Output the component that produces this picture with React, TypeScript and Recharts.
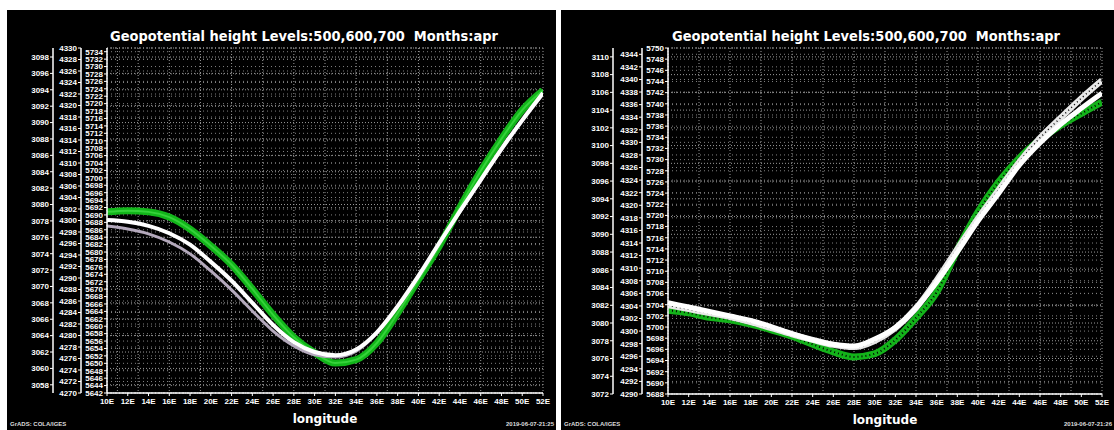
import React from 'react';
import { LineChart, Line, XAxis, YAxis, CartesianGrid } from 'recharts';

const longitudes = [10, 12, 14, 16, 18, 20, 22, 24, 26, 28, 30, 32, 34, 36, 38, 40, 42, 44, 46, 48, 50, 52];
const minorLon = [10, 11, 12, 13, 14, 15, 16, 17, 18, 19, 20, 21, 22, 23, 24, 25, 26, 27, 28, 29, 30, 31, 32, 33, 34, 35, 36, 37, 38, 39, 40, 41, 42, 43, 44, 45, 46, 47, 48, 49, 50, 51, 52];

// left panel (first run)
const leftZ700 = [3078.1, 3077.9, 3077.4, 3076.5, 3075.1, 3073.0, 3070.7, 3068.0, 3065.3, 3063.2, 3062.0, 3061.6, 3062.3, 3064.4, 3067.6, 3071.3, 3075.3, 3079.2, 3083.0, 3086.8, 3090.3, 3093.6];
const leftZ600 = [4301.5, 4301.7, 4301.5, 4300.6, 4298.5, 4295.6, 4292.3, 4288.1, 4283.6, 4279.7, 4277.0, 4275.2, 4275.8, 4278.7, 4283.9, 4289.7, 4295.5, 4302.3, 4308.6, 4314.2, 4319.2, 4322.6];
const leftZ500 = [5687.0, 5686.2, 5684.9, 5682.7, 5679.5, 5674.9, 5669.8, 5664.1, 5658.7, 5654.7, 5652.3, 5651.7, 5653.3, 5658.2, 5665.2, 5673.3, 5682.2, 5690.8, 5699.2, 5707.5, 5715.3, 5722.6];
const leftTicks700 = [3058, 3060, 3062, 3064, 3066, 3068, 3070, 3072, 3074, 3076, 3078, 3080, 3082, 3084, 3086, 3088, 3090, 3092, 3094, 3096, 3098];
const leftTicks600 = [4270, 4272, 4274, 4276, 4278, 4280, 4282, 4284, 4286, 4288, 4290, 4292, 4294, 4296, 4298, 4300, 4302, 4304, 4306, 4308, 4310, 4312, 4314, 4316, 4318, 4320, 4322, 4324, 4326, 4328, 4330];
const leftTicks500 = [5642, 5644, 5646, 5648, 5650, 5652, 5654, 5656, 5658, 5660, 5662, 5664, 5666, 5668, 5670, 5672, 5674, 5676, 5678, 5680, 5682, 5684, 5686, 5688, 5690, 5692, 5694, 5696, 5698, 5700, 5702, 5704, 5706, 5708, 5710, 5712, 5714, 5716, 5718, 5720, 5722, 5724, 5726, 5728, 5730, 5732, 5734];

// right panel (second run)
const rightZ700 = [3082.3, 3081.8, 3081.3, 3080.8, 3080.3, 3079.6, 3078.8, 3078.1, 3077.6, 3077.4, 3078.2, 3079.5, 3081.7, 3084.6, 3088.0, 3091.5, 3094.6, 3097.8, 3100.3, 3102.4, 3104.2, 3105.9];
const rightZ600 = [4303.3, 4302.9, 4302.2, 4301.8, 4301.1, 4300.2, 4299.2, 4297.9, 4296.7, 4295.9, 4296.4, 4298.6, 4302.1, 4306.2, 4312.9, 4318.9, 4323.7, 4327.5, 4330.4, 4332.7, 4334.6, 4336.4];
const rightZ500 = [5703.9, 5703.2, 5702.5, 5701.8, 5700.9, 5699.8, 5698.7, 5697.7, 5696.8, 5696.4, 5697.5, 5699.8, 5703.4, 5708.4, 5714.0, 5719.5, 5724.6, 5729.6, 5733.9, 5737.5, 5741.0, 5744.2];
const rightTicks700 = [3072, 3074, 3076, 3078, 3080, 3082, 3084, 3086, 3088, 3090, 3092, 3094, 3096, 3098, 3100, 3102, 3104, 3106, 3108, 3110];
const rightTicks600 = [4290, 4292, 4294, 4296, 4298, 4300, 4302, 4304, 4306, 4308, 4310, 4312, 4314, 4316, 4318, 4320, 4322, 4324, 4326, 4328, 4330, 4332, 4334, 4336, 4338, 4340, 4342, 4344];
const rightTicks500 = [5688, 5690, 5692, 5694, 5696, 5698, 5700, 5702, 5704, 5706, 5708, 5710, 5712, 5714, 5716, 5718, 5720, 5722, 5724, 5726, 5728, 5730, 5732, 5734, 5736, 5738, 5740, 5742, 5744, 5746, 5748, 5750];

const TITLE = 'Geopotential height Levels:500,600,700  Months:apr';

const tickStyle = { fill: '#fff', fontSize: 8, fontWeight: 700, fontFamily: 'Liberation Sans, Arial, sans-serif' };

function rows(a: number[], b: number[], c: number[]) {
  return longitudes.map((lon, i) => ({ lon, z700: a[i], z600: b[i], z500: c[i] }));
}

type PanelProps = {
  left: number;
  width: number;
  data: any[];
  dom700: [number, number];
  dom600: [number, number];
  dom500: [number, number];
  t700: number[];
  t600: number[];
  t500: number[];
  widths: [number, number, number];
  margin: { top: number; right: number; bottom: number; left: number };
  stamp: string;
  titleX: number;
  variant: 'a' | 'b';
};

function Panel(p: PanelProps) {
  const axisLine = { stroke: '#fff', strokeWidth: 1.5 };
  return (
    <div style={{ position: 'absolute', left: p.left, top: 10, width: p.width, height: 420, background: '#000' }}>
      <LineChart width={p.width} height={420} data={p.data} margin={p.margin}>
        <CartesianGrid xAxisId="minor" yAxisId="z700" horizontal={true} vertical={true} stroke="#9a9a9a" strokeDasharray="1 2" />
        <CartesianGrid yAxisId="z600" vertical={false} stroke="#808080" strokeDasharray="1 3" />
        <CartesianGrid yAxisId="z500" vertical={false} stroke="#808080" strokeDasharray="1 3" />
        <XAxis
          dataKey="lon"
          type="number"
          domain={[10, 52]}
          ticks={longitudes}
          interval={0}
          allowDataOverflow
          tickFormatter={(v) => `${v}E`}
          tick={tickStyle}
          tickSize={3}
          tickMargin={2}
          axisLine={axisLine}
          tickLine={{ stroke: '#fff' }}
          height={30}
          label={{ value: 'longitude', position: 'insideBottom', offset: 0, fill: '#fff', fontSize: 12, fontWeight: 700, fontFamily: 'DejaVu Sans, sans-serif' }}
        />
        <XAxis xAxisId="minor" dataKey="lon" type="number" domain={[10, 52]} ticks={minorLon} hide />
        <XAxis xAxisId="top" orientation="top" dataKey="lon" type="number" domain={[10, 52]} height={0} tick={false} tickLine={false} axisLine={axisLine} />
        <YAxis yAxisId="z700" type="number" domain={p.dom700} ticks={p.t700} interval={0} allowDataOverflow width={p.widths[0]}
          tick={tickStyle} tickSize={3} tickMargin={1} axisLine={axisLine} tickLine={{ stroke: '#fff' }} />
        <YAxis yAxisId="z600" type="number" domain={p.dom600} ticks={p.t600} interval={0} allowDataOverflow width={p.widths[1]}
          tick={tickStyle} tickSize={3} tickMargin={1} axisLine={axisLine} tickLine={{ stroke: '#fff' }} />
        <YAxis yAxisId="z500" type="number" domain={p.dom500} ticks={p.t500} interval={0} allowDataOverflow width={p.widths[2]}
          tick={tickStyle} tickSize={3} tickMargin={1} axisLine={axisLine} tickLine={{ stroke: '#fff' }} />
        <YAxis yAxisId="edge" orientation="right" width={0} tick={false} tickLine={false} axisLine={axisLine} />
        {p.variant === 'a' ? (
          <>
            <Line yAxisId="z600" dataKey="z600" type="monotone" stroke="#12b51a" strokeWidth={7} dot={false} isAnimationActive={false} />
            <Line yAxisId="z600" dataKey="z600" type="monotone" stroke="#35d23a" strokeWidth={2} dot={false} isAnimationActive={false} />
            <Line yAxisId="z500" dataKey="z500" type="monotone" stroke="#b4a9bc" strokeWidth={3} dot={false} isAnimationActive={false} />
            <Line yAxisId="z700" dataKey="z700" type="monotone" stroke="#ffffff" strokeWidth={4} dot={false} isAnimationActive={false} />
          </>
        ) : (
          <>
            <Line yAxisId="z600" dataKey="z600" type="monotone" stroke="#13b31a" strokeWidth={7} dot={false} isAnimationActive={false} />
            <Line yAxisId="z600" dataKey="z600" type="monotone" stroke="#000" strokeWidth={2} strokeDasharray="1 3" dot={false} isAnimationActive={false} />
            <Line yAxisId="z500" dataKey="z500" type="monotone" stroke="#e8e8e8" strokeWidth={6} dot={false} isAnimationActive={false} />
            <Line yAxisId="z500" dataKey="z500" type="monotone" stroke="#000" strokeWidth={1.5} strokeDasharray="1 3" dot={false} isAnimationActive={false} />
            <Line yAxisId="z700" dataKey="z700" type="monotone" stroke="#ffffff" strokeWidth={5} dot={false} isAnimationActive={false} />
          </>
        )}
      </LineChart>
      <svg style={{ position: 'absolute', left: 0, top: 0 }} width={p.width} height={40}>
        <text x={p.titleX} y={31} fill="#fff" fontSize={14} fontWeight={700} fontFamily="DejaVu Sans, sans-serif"
          textLength={388} lengthAdjust="spacingAndGlyphs" xmlSpace="preserve">
          {TITLE}
        </text>
      </svg>
      <div style={{ position: 'absolute', left: 3, top: 411, color: '#ddd', fontSize: 6, fontWeight: 700, fontFamily: 'Liberation Sans, Arial, sans-serif', whiteSpace: 'pre' }}>
        GrADS: COLA/IGES
      </div>
      <div style={{ position: 'absolute', right: 2, top: 411, color: '#ddd', fontSize: 6, fontWeight: 700, fontFamily: 'Liberation Sans, Arial, sans-serif', whiteSpace: 'pre' }}>
        {p.stamp}
      </div>
    </div>
  );
}

export default function App() {
  return (
    <div style={{ position: 'absolute', left: 0, top: 0, width: 1114, height: 430, background: '#fff', overflow: 'hidden' }}>
      <Panel
        left={7}
        width={549}
        data={rows(leftZ700, leftZ600, leftZ500)}
        dom700={[3057, 3099.1]}
        dom600={[4270, 4330]}
        dom500={[5642, 5735]}
        t700={leftTicks700}
        t600={leftTicks600}
        t500={leftTicks500}
        widths={[24, 28, 26]}
        margin={{ top: 38, right: 13, bottom: 7, left: 22 }}
        stamp="2019-06-07-21:25"
        titleX={103}
        variant="a"
      />
      <Panel
        left={561}
        width={553}
        data={rows(rightZ700, rightZ600, rightZ500)}
        dom700={[3072, 3111]}
        dom600={[4290, 4345]}
        dom500={[5688, 5750]}
        t700={rightTicks700}
        t600={rightTicks600}
        t500={rightTicks500}
        widths={[24, 29, 26]}
        margin={{ top: 38, right: 12, bottom: 6, left: 28 }}
        stamp="2019-06-07-21:26"
        titleX={111}
        variant="b"
      />
    </div>
  );
}
